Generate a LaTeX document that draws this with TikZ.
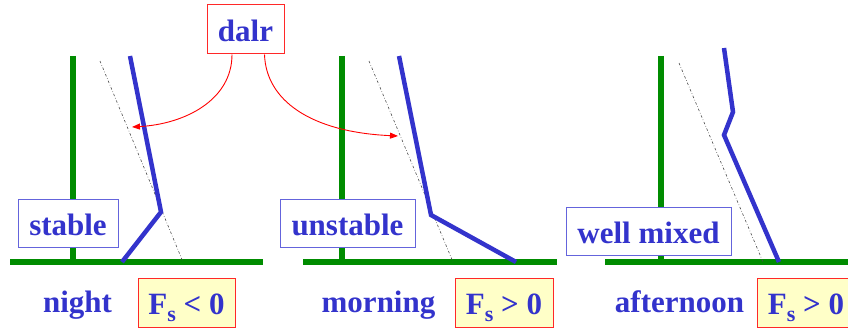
\documentclass[tikz,border=0pt]{standalone}
\usepackage{fontspec}
\setmainfont{Liberation Serif}
\usetikzlibrary{arrows.meta}
\definecolor{tblue}{RGB}{51,51,204}
\definecolor{bblue}{RGB}{100,100,220}
\definecolor{agreen}{RGB}{0,140,0}
\definecolor{bred}{RGB}{255,40,40}
\definecolor{byellow}{RGB}{255,255,200}
\newcommand{\bigf}{\bfseries\fontsize{31}{36}\selectfont}
\newcommand{\Fsub}{F\raisebox{-7pt}{\fontsize{22}{24}\selectfont s}}
\tikzset{
  lbl/.style={font=\bigf, text=tblue, inner sep=0pt, anchor=base},
  boxb/.style={draw=bblue, fill=white, line width=1pt, inner sep=0pt, text height=24pt, text depth=0pt, font=\bigf, text=tblue},
  boxr/.style={boxb, draw=bred},
  boxy/.style={boxr, fill=byellow},
  axisline/.style={draw=agreen, line width=6pt},
  prof/.style={draw=tblue, line width=4.5pt},
  dalrline/.style={draw=black!70, line width=0.6pt, dash pattern=on 2.5pt off 2pt on 0.6pt off 2pt},
  rarrow/.style={draw=red, line width=0.9pt, -{Triangle[length=8pt,width=6pt]}}
}
\begin{document}
\begin{tikzpicture}[x=1pt,y=-1pt]
\useasboundingbox (0,0) rectangle (848,329);
\clip (0,0) rectangle (848,329);
% panel 1
\draw[axisline] (73,56) -- (73,262);
\draw[axisline] (10,262) -- (263,262);
\draw[dalrline] (100,61) -- (183,262);
\draw[prof] (130,56) -- (161,212) -- (122,262);
% panel 2
\draw[axisline] (342,56) -- (342,262);
\draw[axisline] (303,262) -- (557,262);
\draw[dalrline] (369,61) -- (453,262);
\draw[prof] (399,56) -- (431,215) -- (516,262);
% panel 3
\draw[axisline] (661,56) -- (661,262);
\draw[axisline] (605,262) -- (850,262);
\draw[dalrline] (679,63) -- (763,262);
\draw[prof] (724,48) -- (733,112) -- (724,135) -- (779,262);
% boxes
\node[boxr, minimum width=77pt, minimum height=49pt] (dalr) at (245.5,29.5) {dalr};
\node[boxb, minimum width=100pt, minimum height=48pt] (stable) at (68,223) {stable};
\node[boxb, minimum width=135pt, minimum height=48pt] (unstable) at (347.5,223) {unstable};
\node[boxb, minimum width=165pt, minimum height=48pt] (mixed) at (648.5,231) {well mixed};
\node[boxy, minimum width=97pt, minimum height=49pt] (fs1) at (186.5,302.5) {\Fsub{} < 0};
\node[boxy, minimum width=98pt, minimum height=49pt] (fs2) at (504,302.5) {\Fsub{} > 0};
\node[boxy, minimum width=98pt, minimum height=49pt] (fs3) at (806,302.5) {\Fsub{} > 0};
% labels
\node[lbl] (night) at (77.5,312) {night};
\node[lbl] (morning) at (378.5,312) {morning};
\node[lbl] (afternoon) at (679.5,312) {afternoon};
% arrows
\coordinate (t1) at (132,127);
\coordinate (t2) at (398,136);
\draw[rarrow] ([xshift=-13.5pt]dalr.south) .. controls (232,100) and (185,124) .. (t1);
\draw[rarrow] ([xshift=19pt]dalr.south) .. controls (266,100) and (310,132) .. (t2);
\end{tikzpicture}
\end{document}
